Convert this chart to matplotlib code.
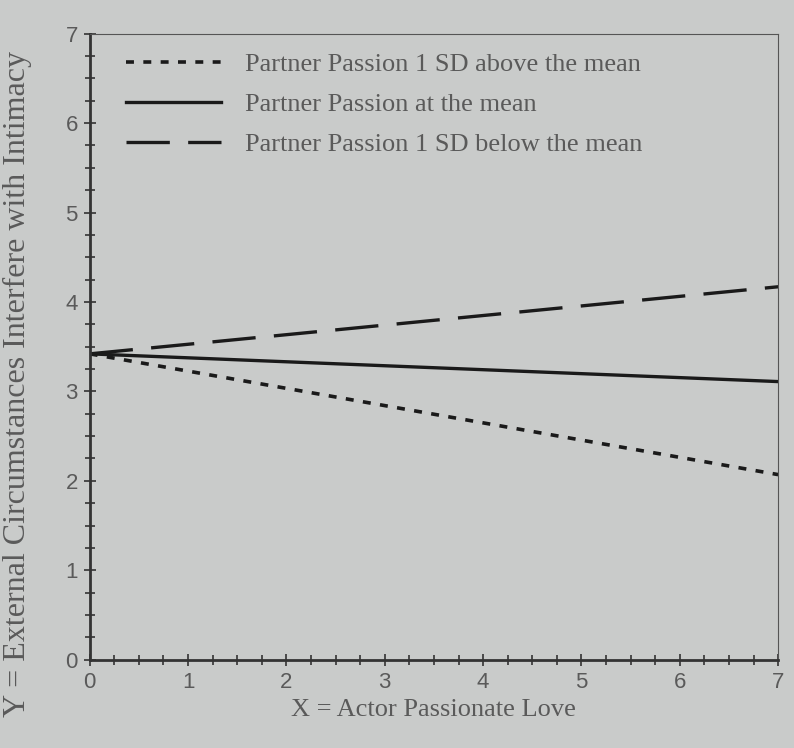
import matplotlib.pyplot as plt
from matplotlib.ticker import MultipleLocator

# simple slopes at two ends of X
x = [0, 7]
above_mean = [3.42, 2.07]
at_mean = [3.42, 3.11]
below_mean = [3.42, 4.17]

labels = ["Partner Passion 1 SD above the mean",
          "Partner Passion at the mean",
          "Partner Passion 1 SD below the mean"]

bg = '#c9cbca'
txt = '#5a5a5a'

fig = plt.figure(figsize=(7.94, 7.48), dpi=100, facecolor=bg)
ax = fig.add_axes([0.113, 0.118, 0.867, 0.837], facecolor=bg)

ax.plot(x, above_mean, color='#1a1a1a', lw=2.6, dashes=(2.2, 2.6), label=labels[0])
ax.plot(x, at_mean, color='#1a1a1a', lw=2.4, label=labels[1])
ax.plot(x, below_mean, color='#1a1a1a', lw=2.4, dashes=(13, 5.5), label=labels[2])

ax.set_xlim(0, 7)
ax.set_ylim(0, 7)
ax.xaxis.set_major_locator(MultipleLocator(1))
ax.yaxis.set_major_locator(MultipleLocator(1))
ax.xaxis.set_minor_locator(MultipleLocator(0.25))
ax.yaxis.set_minor_locator(MultipleLocator(0.25))
ax.tick_params(which='both', direction='inout', color='#333333', width=1.2)
ax.tick_params(which='major', length=9, labelsize=16, labelcolor=txt, pad=4)
ax.tick_params(which='minor', length=7)
for lab in ax.get_xticklabels() + ax.get_yticklabels():
    lab.set_family('Liberation Sans')

ax.spines['left'].set_linewidth(2)
ax.spines['bottom'].set_linewidth(2)
ax.spines['left'].set_color('#333333')
ax.spines['bottom'].set_color('#333333')
ax.spines['top'].set_color('#555555')
ax.spines['right'].set_color('#555555')

ax.set_xlabel('X = Actor Passionate Love', family='Liberation Serif',
              fontsize=19, color=txt, labelpad=5)
ax.set_ylabel('Y = External Circumstances Interfere with Intimacy',
              family='Liberation Serif', fontsize=23, color=txt)
ax.yaxis.set_label_coords(-0.084, 0.44)

leg = ax.legend(loc='upper left', bbox_to_anchor=(0.03, 0.995), frameon=False,
                handlelength=3.6, prop={'family': 'Liberation Serif', 'size': 19},
                labelspacing=0.63, borderaxespad=0.2, handletextpad=0.9)
for t in leg.get_texts():
    t.set_color(txt)

plt.savefig('out.png', dpi=100, facecolor=bg)
